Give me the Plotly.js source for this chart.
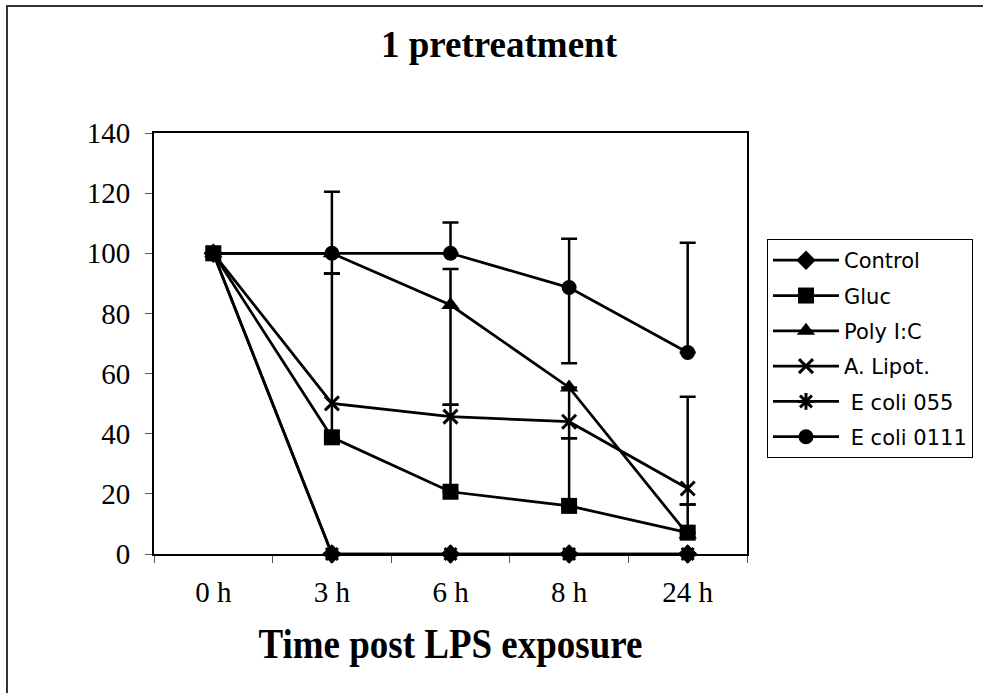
<!DOCTYPE html>
<html>
<head>
<meta charset="utf-8">
<script src="https://cdn.plot.ly/plotly-3.0.1.min.js"></script>
<style>
  html, body { margin: 0; padding: 0; background: #fff; overflow: hidden; }
  #wrap { position: relative; width: 983px; height: 693px; overflow: hidden; }
  #chart { width: 983px; height: 693px; }
  #frame { position: absolute; left: 6px; top: 5px; width: 1000px; height: 720px;
           border: 2px solid #333; pointer-events: none; }
</style>
</head>
<body>
<div id="wrap">
  <div id="chart"></div>
  <div id="frame"></div>
</div>
<script>
// Categories (x axis)
const timePoints = ['0 h', '3 h', '6 h', '8 h', '24 h'];

// Series values
const control   = [100, 0, 0, 0, 0];
const gluc      = [100, 38.8, 20.7, 16, 7.1];
const polyIC    = [100, 100, 82.8, 55.4, 6.5];
const aLipot    = [100, 50.1, 45.7, 44, 21.8];
const eColi055  = [100, 0, 0, 0, 0];
const eColi0111 = [100, 100, 100, 88.6, 67];

// Error bars (plus / minus); null = no bar
const glucPlus       = [null, 54.5, 28.9, 22.5, 9.4];
const glucMinus      = [null, 0, 0, 0, 0];
const polyICPlus     = [null, 0, 12, 0, null];
const polyICMinus    = [null, 6.7, 33.2, 16.9, null];
const aLipotPlus     = [null, null, null, null, 30.5];
const aLipotMinus    = [null, null, null, null, 5.3];
const eColi0111Plus  = [null, 20.5, 10.2, 16.2, 36.5];
const eColi0111Minus = [null, 0, 0, 25.2, 0];

// Legend labels
const seriesNames = ['Control', 'Gluc', 'Poly I:C', 'A. Lipot.', ' E coli 055', ' E coli 0111'];

const toNaN = a => a.map(v => v === null ? NaN : v);

function errBar(plus, minus) {
  if (!plus) return { visible: false };
  return {
    type: 'data', symmetric: false,
    array: toNaN(plus), arrayminus: toNaN(minus),
    color: '#000', thickness: 2.5, width: 8, visible: true
  };
}

function series(name, y, symbol, size, open, plus, minus, rank) {
  return {
    type: 'scatter', mode: 'lines+markers', name: name,
    x: timePoints, y: y, legendgroup: name, legendrank: rank,
    cliponaxis: false,
    line: { color: '#000', width: 2.75 },
    marker: {
      symbol: symbol, size: size, color: '#000',
      line: { color: '#000', width: open ? 3 : 0 }
    },
    error_y: errBar(plus, minus)
  };
}

const data = [
  series(seriesNames[0], control, 'diamond', 15, false, null, null, 1),
  series(seriesNames[2], polyIC, 'triangle-up', 16, false, polyICPlus, polyICMinus, 3),
  series(seriesNames[1], gluc, 'square', 16, false, glucPlus, glucMinus, 2),
  series(seriesNames[3], aLipot, 'x-thin-open', 14, true, aLipotPlus, aLipotMinus, 4),
  series(seriesNames[4], eColi055, 'asterisk-open', 14, true, null, null, 5),
  series(seriesNames[5], eColi0111, 'circle', 15, false, eColi0111Plus, eColi0111Minus, 6)
];

const serif = 'Liberation Serif, Times New Roman, serif';

const layout = {
  width: 983, height: 693,
  paper_bgcolor: '#fff', plot_bgcolor: '#fff',
  margin: { l: 154, r: 236, t: 133, b: 139, autoexpand: false },
  title: {
    text: '1 pretreatment',
    font: { family: serif, size: 37, weight: 'bold', color: '#000' },
    xref: 'container', x: 0.5076, xanchor: 'center',
    yref: 'container', y: 0.9365, yanchor: 'middle'
  },
  xaxis: {
    type: 'category', categoryorder: 'array', categoryarray: timePoints,
    range: [-0.5, 4.5],
    tickson: 'boundaries', ticks: 'outside', ticklen: 7, tickwidth: 1, tickcolor: '#555',
    showline: true, linecolor: '#000', linewidth: 2, mirror: true,
    showgrid: false, zeroline: false,
    tickfont: { family: serif, size: 29, color: '#000' },
    ticklabelstandoff: 11,
    title: {
      text: 'Time post LPS exposure',
      font: { family: serif, size: 37, weight: 'bold', color: '#000' },
      standoff: 23
    }
  },
  yaxis: {
    range: [0, 140], dtick: 20, tick0: 0,
    ticks: 'outside', ticklen: 7, tickwidth: 1, tickcolor: '#555',
    showline: true, linecolor: '#000', linewidth: 2, mirror: true,
    showgrid: false, zeroline: false,
    tickfont: { family: serif, size: 29, color: '#000' },
    ticklabelstandoff: 9
  },
  showlegend: true,
  legend: {
    x: 1.0337, xanchor: 'left', y: 0.748, yanchor: 'top',
    bordercolor: '#000', borderwidth: 1, bgcolor: '#fff',
    font: { family: 'DejaVu Sans, Verdana, sans-serif', size: 21, color: '#000' },
    traceorder: 'grouped', tracegroupgap: 5, itemwidth: 66
  }
};

Plotly.newPlot('chart', data, layout, { staticPlot: true, displayModeBar: false }).then(() => {
  // the reference axis title is drawn slightly stretched vertically
  const t = document.querySelector('.g-xtitle text');
  if (t) {
    const b = t.getBBox();
    const cy = b.y + b.height / 2;
    t.setAttribute('transform', 'translate(0,' + cy + ') scale(1,1.15) translate(0,' + (-cy) + ')');
  }
});
</script>
</body>
</html>
